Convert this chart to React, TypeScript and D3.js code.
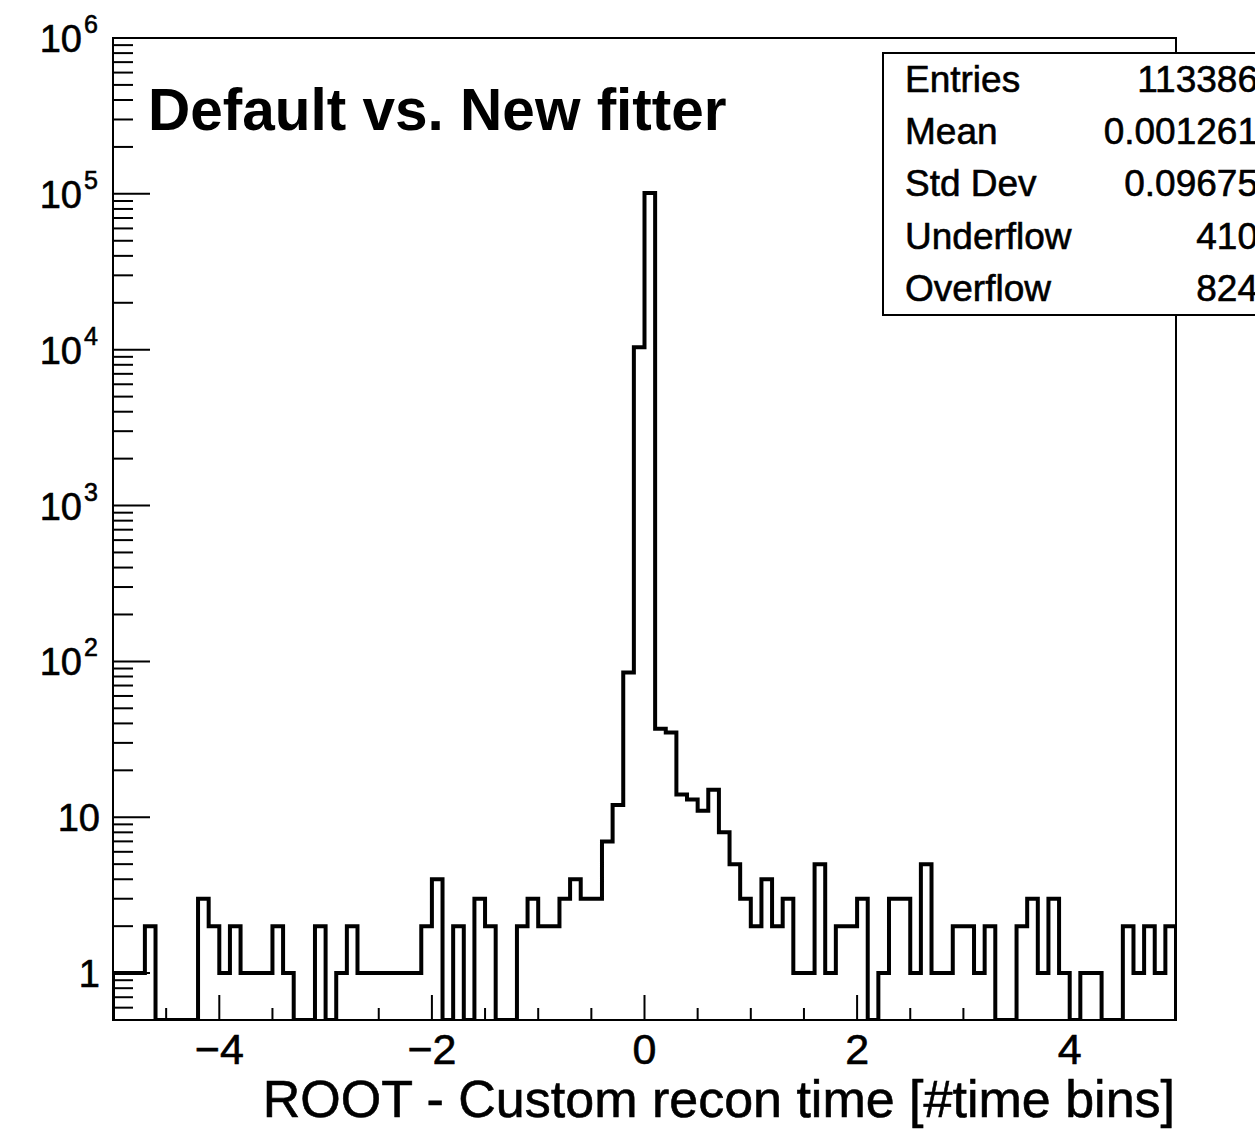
import React from "react";
import * as d3 from "d3";

// ---- data ----
const xMin = -5;
const xMax = 5;
const binWidth = 0.1;
const counts: number[] = [
  1, 1, 1, 2, 0, 0, 0, 0, 3, 2,
  1, 2, 1, 1, 1, 2, 1, 0, 0, 2,
  0, 1, 2, 1, 1, 1, 1, 1, 1, 2,
  4, 0, 2, 0, 3, 2, 0, 0, 2, 3,
  2, 2, 3, 4, 3, 3, 7, 12, 85, 10350,
  101400, 37, 35, 14, 13, 11, 15, 8, 5, 3,
  2, 4, 2, 3, 1, 1, 5, 1, 2, 2,
  3, 0, 1, 3, 3, 1, 5, 1, 1, 2,
  2, 1, 2, 0, 0, 2, 3, 1, 3, 1,
  0, 1, 1, 0, 0, 2, 1, 2, 1, 2,
];
const yMin = 0.5;
const yMax = 1e6;
const yMajorTicks = [1, 10, 100, 1e3, 1e4, 1e5, 1e6];
const xMajorTicks = [-4, -2, 0, 2, 4];
const xMinorStep = 0.5;
const statNames = ["Entries", "Mean", "Std Dev", "Underflow", "Overflow"];
const statValues = ["113386", "0.001261", "0.09675", "410", "824"];
const titleText = "Default vs. New fitter";
const xTitle = "ROOT - Custom recon time [#time bins]";

const FONT = "'Liberation Sans', Arial, Helvetica, sans-serif";

export default function App() {
  const W = 1255;
  const H = 1129;
  const left = 113;
  const right = 1176;
  const top = 38;
  const bottom = 1020;

  const x = d3.scaleLinear().domain([xMin, xMax]).range([left, right]);
  const y = d3.scaleLog().domain([yMin, yMax]).range([bottom, top]);
  const yv = (v: number) => y(Math.max(v, yMin));

  // histogram step path
  let path = `M${x(xMin)},${yv(0)}`;
  counts.forEach((c, i) => {
    const x0 = x(xMin + i * binWidth);
    const x1 = x(xMin + (i + 1) * binWidth);
    path += `L${x0},${yv(c)}L${x1},${yv(c)}`;
  });
  path += `L${x(xMax)},${yv(0)}`;

  // y minor ticks
  const yMinor: number[] = [];
  for (let e = -1; e < 6; e++) {
    for (let m = 2; m <= 9; m++) {
      const v = m * Math.pow(10, e);
      if (v >= yMin && v <= yMax && !yMajorTicks.includes(v)) yMinor.push(v);
    }
  }
  const xMinor = d3
    .range(xMin, xMax + 1e-9, xMinorStep)
    .filter((v) => !xMajorTicks.some((t) => Math.abs(t - v) < 1e-9));

  const txt = { stroke: "#000", strokeWidth: 0.6 };

  return (
    <svg
      width={W}
      height={H}
      style={{ position: "absolute", left: 0, top: 0, background: "#fff" }}
      fontFamily={FONT}
    >
      <rect x={0} y={0} width={W} height={H} fill="#fff" />
      <defs>
        <clipPath id="plotclip">
          <rect x={left} y={top} width={right - left} height={bottom - top + 1} />
        </clipPath>
      </defs>

      {/* histogram */}
      <path
        d={path}
        fill="none"
        stroke="#000"
        strokeWidth={4}
        strokeLinejoin="miter"
        clipPath="url(#plotclip)"
      />

      {/* frame */}
      <rect
        x={left}
        y={top}
        width={right - left}
        height={bottom - top}
        fill="none"
        stroke="#000"
        strokeWidth={2}
      />

      {/* y ticks */}
      {yMajorTicks.map((v) => (
        <line key={"ym" + v} x1={left} x2={left + 37} y1={y(v)} y2={y(v)} stroke="#000" strokeWidth={2} />
      ))}
      {yMinor.map((v) => (
        <line key={"yn" + v} x1={left} x2={left + 20} y1={y(v)} y2={y(v)} stroke="#000" strokeWidth={2} />
      ))}

      {/* y labels */}
      {yMajorTicks.map((v) => {
        const ty = y(v);
        const e = Math.round(Math.log10(v));
        if (e === 0)
          return (
            <text key={"yl" + v} x={100} y={ty + 14} fontSize={38} textAnchor="end" {...txt}>1</text>
          );
        if (e === 1)
          return (
            <text key={"yl" + v} x={100} y={ty + 14} fontSize={38} textAnchor="end" {...txt}>10</text>
          );
        return (
          <g key={"yl" + v}>
            <text x={82} y={ty + 14} fontSize={38} textAnchor="end" {...txt}>10</text>
            <text x={84} y={ty - 5} fontSize={25} textAnchor="start" {...txt}>{e}</text>
          </g>
        );
      })}

      {/* x ticks */}
      {xMajorTicks.map((v) => (
        <line key={"xm" + v} x1={x(v)} x2={x(v)} y1={bottom} y2={bottom - 25} stroke="#000" strokeWidth={2} />
      ))}
      {xMinor.map((v) => (
        <line key={"xn" + v} x1={x(v)} x2={x(v)} y1={bottom} y2={bottom - 12} stroke="#000" strokeWidth={2} />
      ))}
      {xMajorTicks.map((v) => (
        <text key={"xl" + v} x={x(v)} y={1064} fontSize={43} textAnchor="middle" {...txt}>
          {v < 0 ? "\u2212" + Math.abs(v) : String(v)}
        </text>
      ))}

      {/* axis title */}
      <text x={1175} y={1117} fontSize={52} textAnchor="end" {...txt}>{xTitle}</text>

      {/* title */}
      <text x={148} y={130} fontSize={58.5} fontWeight="bold">{titleText}</text>

      {/* stats box */}
      <rect x={883} y={53} width={420} height={262} fill="#fff" stroke="#000" strokeWidth={2} />
      {statNames.map((n, i) => (
        <g key={n}>
          <text x={905} y={92 + i * 52.2} fontSize={37} {...txt}>{n}</text>
          <text x={1258} y={92 + i * 52.2} fontSize={37} textAnchor="end" {...txt}>{statValues[i]}</text>
        </g>
      ))}
    </svg>
  );
}
